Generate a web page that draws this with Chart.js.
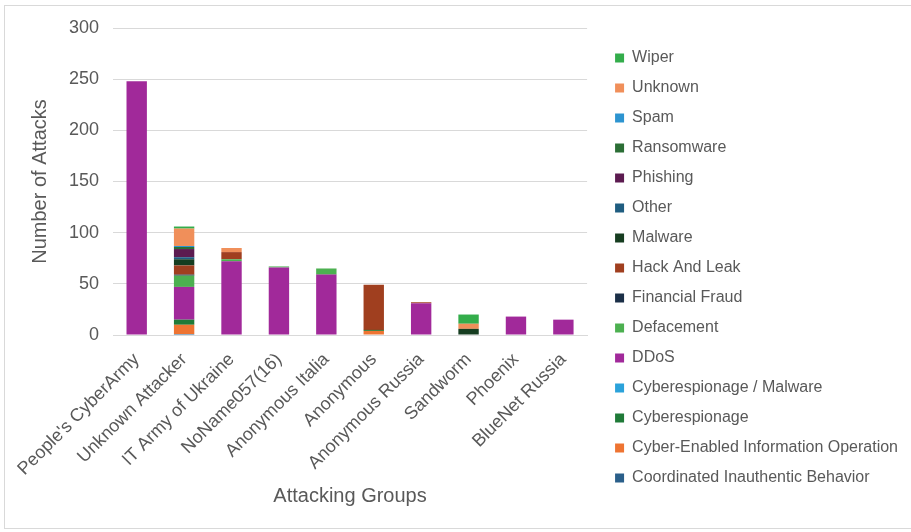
<!DOCTYPE html>
<html>
<head>
<meta charset="utf-8">
<script src="https://cdn.jsdelivr.net/npm/chart.js@4/dist/chart.umd.min.js"></script>
<style>
  body { margin: 0; background: #fff; overflow: hidden; }
  canvas { position: absolute; left: 0; top: 0; }
  #frame { position: absolute; left: 4px; top: 5px; width: 940px; height: 522px; border: 1px solid #d9d9d9; pointer-events: none; }
</style>
</head>
<body>
<canvas id="myChart" width="911" height="532"></canvas>
<div id="frame"></div>
<script>
const groups = ["People's CyberArmy", 'Unknown Attacker', 'IT Army of Ukraine', 'NoName057(16)', 'Anonymous Italia',
    'Anonymous', 'Anonymous Russia', 'Sandworm', 'Phoenix', 'BlueNet Russia'];

// stacking order, bottom to top
const coordinated  = [0, 1, 0, 0, 0, 0, 0, 0, 0, 0];
const cyberEnabled = [0, 9, 0, 0, 0, 4, 0, 0, 0, 0];
const espionage    = [0, 5, 0, 0, 0, 1, 0, 0, 0, 0];
const espMalware   = [0, 0, 0, 0, 0, 0, 0, 0, 0, 0];
const ddos         = [248, 32, 72, 66, 59, 0, 31, 0, 18, 15];
const defacement   = [0, 11, 2, 1, 6, 0, 0, 0, 0, 0];
const fraud        = [0, 1, 0, 0, 0, 0, 0, 0, 0, 0];
const hackLeak     = [0, 9, 7, 0, 0, 44, 1, 0, 0, 0];
const malware      = [0, 6, 0, 0, 0, 0, 0, 6, 0, 0];
const other        = [0, 2, 0, 0, 0, 0, 0, 0, 0, 0];
const phishing     = [0, 8, 0, 0, 0, 0, 0, 0, 0, 0];
const ransomware   = [0, 2, 0, 0, 0, 0, 0, 0, 0, 0];
const spam         = [0, 1, 0, 0, 0, 0, 0, 0, 0, 0];
const unknown      = [0, 17, 4, 0, 0, 0, 0, 5, 0, 0];
const wiper        = [0, 2, 0, 0, 0, 0, 0, 9, 0, 0];

const txt = '#595959';
const font = 'Liberation Sans, Arial, sans-serif';

function ds(label, data, color) {
    return { label: label, data: data, backgroundColor: color, barPercentage: 0.43, categoryPercentage: 1 };
}

const ctx = document.getElementById('myChart').getContext('2d');
const myChart = new Chart(ctx, {
    type: 'bar',
    data: {
        labels: groups,
        datasets: [
            ds('Coordinated Inauthentic Behavior', coordinated, '#2a5f8a'),
            ds('Cyber-Enabled Information Operation', cyberEnabled, '#ee7432'),
            ds('Cyberespionage', espionage, '#1f7a38'),
            ds('Cyberespionage / Malware', espMalware, '#2ba2da'),
            ds('DDoS', ddos, '#a1299a'),
            ds('Defacement', defacement, '#4cb050'),
            ds('Financial Fraud', fraud, '#1b2f47'),
            ds('Hack And Leak', hackLeak, '#a03f1f'),
            ds('Malware', malware, '#163d20'),
            ds('Other', other, '#1f5d80'),
            ds('Phishing', phishing, '#5c1b50'),
            ds('Ransomware', ransomware, '#2b6e35'),
            ds('Spam', spam, '#2d94d0'),
            ds('Unknown', unknown, '#f08f5a'),
            ds('Wiper', wiper, '#33ad4b'),
        ]
    },
    options: {
        responsive: false,
        animation: false,
        layout: { padding: { left: 24, top: 28, right: 3, bottom: 24 } },
        plugins: {
            tooltip: { enabled: false },
            legend: {
                position: 'right',
                reverse: true,
                maxWidth: 320,
                labels: {
                    boxWidth: 9,
                    boxHeight: 9,
                    padding: 14,
                    color: txt,
                    font: { family: font, size: 16 },
                },
            },
        },
        scales: {
            x: {
                stacked: true,
                grid: { display: false },
                border: { color: '#d9d9d9' },
                ticks: { color: txt, font: { family: font, size: 18 }, minRotation: 45, maxRotation: 45, autoSkip: false, padding: 6 },
                title: { display: true, text: 'Attacking Groups', color: txt, font: { family: font, size: 20 }, padding: { top: 4, bottom: 0 } },
                afterFit: (scale) => { scale.height = 173; },
            },
            y: {
                stacked: true,
                min: 0,
                max: 300,
                ticks: { stepSize: 50, color: txt, font: { family: font, size: 18 }, padding: 14 },
                grid: { color: '#d9d9d9', drawTicks: false },
                border: { display: false },
                title: { display: true, text: 'Number of Attacks', color: txt, font: { family: font, size: 20 } },
                afterFit: (scale) => { scale.width = 89; },
            },
            // empty gap between the plot and the legend
            gap: {
                position: 'right',
                display: true,
                grid: { display: false },
                border: { display: false },
                ticks: { display: false },
                afterFit: (scale) => { scale.width = 14; },
            },
        },
    },
});
</script>
</body>
</html>
